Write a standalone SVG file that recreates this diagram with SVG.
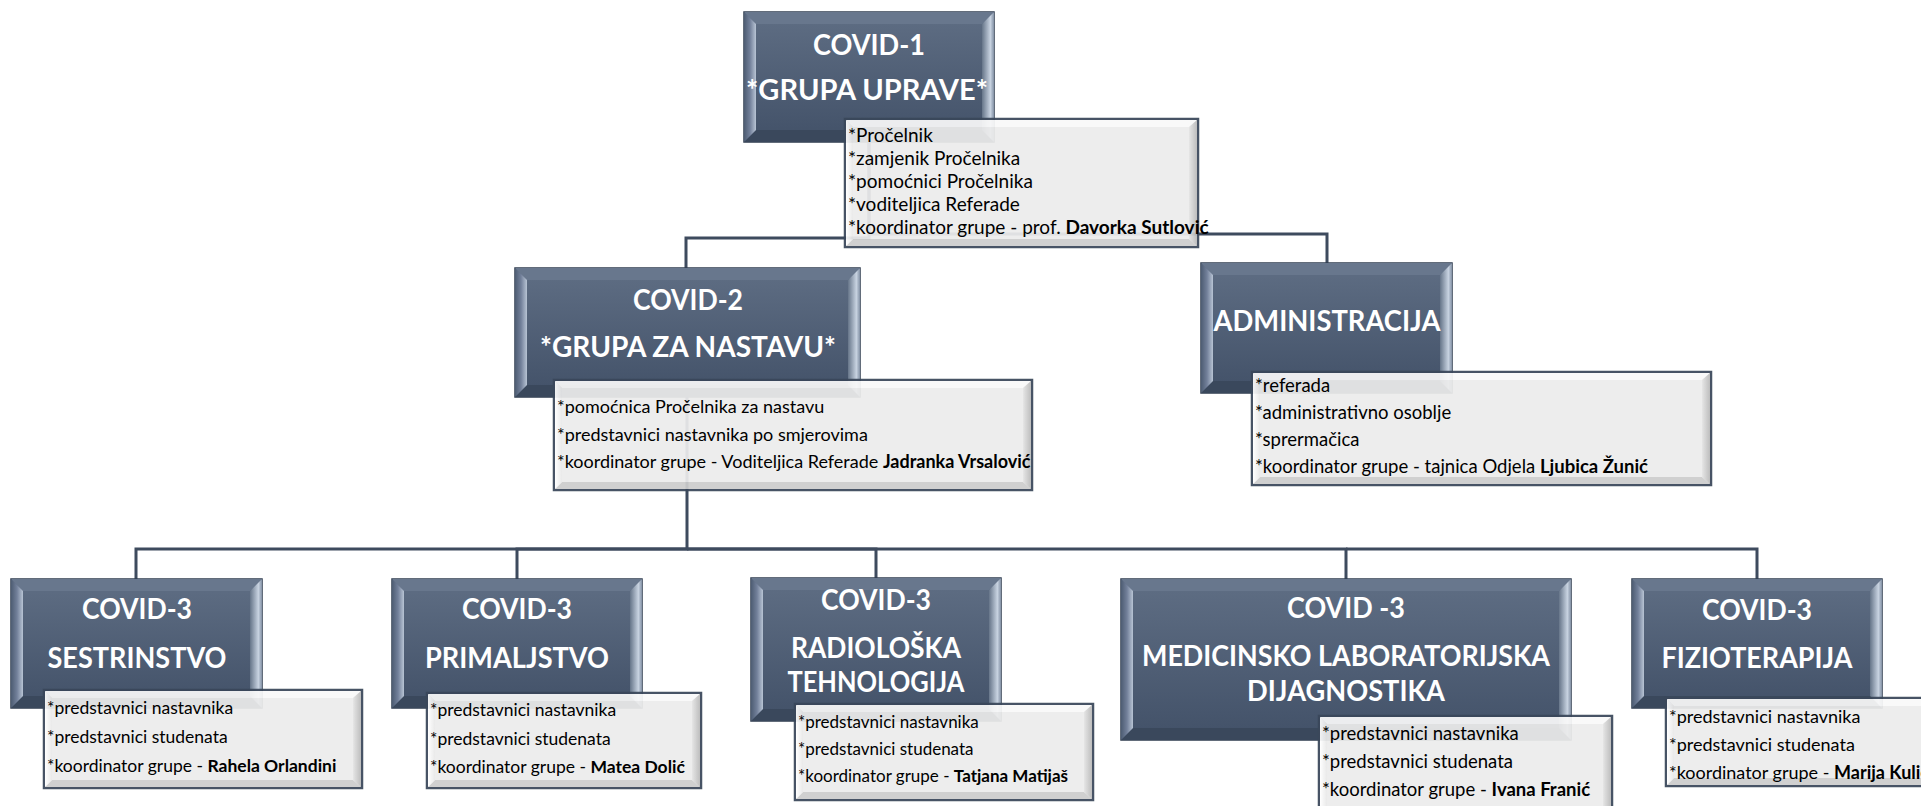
<svg xmlns="http://www.w3.org/2000/svg" width="1921" height="806" viewBox="0 0 1921 806">
<defs>
<linearGradient id="gD" x1="0" y1="0" x2="0" y2="1"><stop offset="0" stop-color="#5f6e84"/><stop offset="1" stop-color="#425168"/></linearGradient>
<linearGradient id="gDL" x1="0" y1="0" x2="1" y2="0"><stop offset="0" stop-color="#4d5c72"/><stop offset="0.5" stop-color="#72809a"/><stop offset="1" stop-color="#b8c4d4"/></linearGradient>
<linearGradient id="gDR" x1="0" y1="0" x2="1" y2="0"><stop offset="0" stop-color="#667589"/><stop offset="0.7" stop-color="#c8d3e1"/><stop offset="1" stop-color="#8391a5"/></linearGradient>
<linearGradient id="gLR" x1="0" y1="0" x2="1" y2="0"><stop offset="0" stop-color="#e4e4e4"/><stop offset="1" stop-color="#b9b9b9"/></linearGradient>
<linearGradient id="gLL" x1="0" y1="0" x2="1" y2="0"><stop offset="0" stop-color="#ffffff"/><stop offset="1" stop-color="#e8e8e8"/></linearGradient>
</defs>
<style>
.dk{fill:url(#gD);stroke:#2f3c4f;stroke-width:1.5}
.dl{fill:url(#gDL)}
.dr{fill:url(#gDR)}
.dt{fill:#68778d}
.db{fill:#3a485c}
.lb{opacity:0.93}
.lk{fill:#ececec;stroke:#3a475a;stroke-width:2.5}
.ll{fill:url(#gLL)}
.lr{fill:url(#gLR)}
.lt{fill:#f9f9f9}
.lbt{fill:#cdcdcd}
.t{font-family:Lato,"Liberation Sans",sans-serif;font-weight:700;font-size:28px;fill:#ffffff;text-anchor:middle}
.x{font-family:Lato,"Liberation Sans",sans-serif;fill:#000000}
.x .n{font-weight:700}
.s19{font-size:19px}
.s185{font-size:18.5px}
.s18{font-size:18px}
.s175{font-size:17.5px}
.s17{font-size:17px}
.c{fill:none;stroke:#3e4b5e;stroke-width:3}
</style>
<rect width="1921" height="806" fill="#ffffff"/>
<g id="connectors">
<path class="c" d="M869,142 V238 H686 V268"/>
<path class="c" d="M869,142 V234 H1327 V263"/>
<path class="c" d="M687,397 V549 H136 V579"/>
<path class="c" d="M687,549 H517 V579"/>
<path class="c" d="M687,549 H876 V578"/>
<path class="c" d="M687,549 H1346 V579"/>
<path class="c" d="M1346,549 H1757 V579"/>
</g>
<g id="n1">
<rect class="dk" x="744" y="12" width="250" height="130"/>
<polygon class="dt" points="744,12 994,12 982,24 756,24"/>
<polygon class="db" points="744,142 994,142 982,130 756,130"/>
<polygon class="dl" points="744,12 756,24 756,130 744,142"/>
<polygon class="dr" points="994,12 982,24 982,130 994,142"/>
<text class="t" x="869" y="55" textLength="112" lengthAdjust="spacingAndGlyphs">COVID-1</text>
<text class="t" x="867" y="100" textLength="242" lengthAdjust="spacingAndGlyphs">*GRUPA UPRAVE*</text>
<g class="lb">
<rect class="lk" x="845" y="119" width="353" height="128"/>
<polygon class="lt" points="846,120 1197,120 1189,127 853,127"/>
<polygon class="lbt" points="846,246 1197,246 1189,239 853,239"/>
<polygon class="ll" points="846,120 853,127 853,239 846,246"/>
<polygon class="lr" points="1197,120 1189,127 1189,239 1197,246"/>
</g>
<text class="x s19" x="848" y="142">*Pročelnik</text>
<text class="x s19" x="848" y="165">*zamjenik Pročelnika</text>
<text class="x s19" x="848" y="188">*pomoćnici Pročelnika</text>
<text class="x s19" x="848" y="211">*voditeljica Referade</text>
<text class="x s19" x="848" y="234">*koordinator grupe - prof. <tspan class="n">Davorka Sutlović</tspan></text>
</g>
<g id="n2">
<rect class="dk" x="515" y="268" width="345" height="129"/>
<polygon class="dt" points="515,268 860,268 848,280 527,280"/>
<polygon class="db" points="515,397 860,397 848,385 527,385"/>
<polygon class="dl" points="515,268 527,280 527,385 515,397"/>
<polygon class="dr" points="860,268 848,280 848,385 860,397"/>
<text class="t" x="688" y="310" textLength="110" lengthAdjust="spacingAndGlyphs">COVID-2</text>
<text class="t" x="688" y="357" textLength="296" lengthAdjust="spacingAndGlyphs">*GRUPA ZA NASTAVU*</text>
<g class="lb">
<rect class="lk" x="554" y="380" width="478" height="110"/>
<polygon class="lt" points="555,381 1031,381 1023,388 562,388"/>
<polygon class="lbt" points="555,489 1031,489 1023,482 562,482"/>
<polygon class="ll" points="555,381 562,388 562,482 555,489"/>
<polygon class="lr" points="1031,381 1023,388 1023,482 1031,489"/>
</g>
<text class="x s18" x="557" y="413">*pomoćnica Pročelnika za nastavu</text>
<text class="x s18" x="557" y="441">*predstavnici nastavnika po smjerovima</text>
<text class="x s18" x="557" y="468">*koordinator grupe - Voditeljica Referade <tspan class="n">Jadranka Vrsalović</tspan></text>
</g>
<g id="n3">
<rect class="dk" x="1201" y="263" width="251" height="130"/>
<polygon class="dt" points="1201,263 1452,263 1440,275 1213,275"/>
<polygon class="db" points="1201,393 1452,393 1440,381 1213,381"/>
<polygon class="dl" points="1201,263 1213,275 1213,381 1201,393"/>
<polygon class="dr" points="1452,263 1440,275 1440,381 1452,393"/>
<text class="t" x="1327" y="331" textLength="227" lengthAdjust="spacingAndGlyphs">ADMINISTRACIJA</text>
<g class="lb">
<rect class="lk" x="1252" y="372" width="459" height="113"/>
<polygon class="lt" points="1253,373 1710,373 1702,380 1260,380"/>
<polygon class="lbt" points="1253,484 1710,484 1702,477 1260,477"/>
<polygon class="ll" points="1253,373 1260,380 1260,477 1253,484"/>
<polygon class="lr" points="1710,373 1702,380 1702,477 1710,484"/>
</g>
<text class="x s185" x="1255" y="392">*referada</text>
<text class="x s185" x="1255" y="419">*administrativno osoblje</text>
<text class="x s185" x="1255" y="446">*sprermačica</text>
<text class="x s185" x="1255" y="473">*koordinator grupe - tajnica Odjela <tspan class="n">Ljubica Žunić</tspan></text>
</g>
<g id="n4">
<rect class="dk" x="11" y="579" width="251" height="129"/>
<polygon class="dt" points="11,579 262,579 250,591 23,591"/>
<polygon class="db" points="11,708 262,708 250,696 23,696"/>
<polygon class="dl" points="11,579 23,591 23,696 11,708"/>
<polygon class="dr" points="262,579 250,591 250,696 262,708"/>
<text class="t" x="137" y="619" textLength="110" lengthAdjust="spacingAndGlyphs">COVID-3</text>
<text class="t" x="137" y="668" textLength="179" lengthAdjust="spacingAndGlyphs">SESTRINSTVO</text>
<g class="lb">
<rect class="lk" x="44" y="690" width="318" height="98"/>
<polygon class="lt" points="45,691 361,691 353,698 52,698"/>
<polygon class="lbt" points="45,787 361,787 353,780 52,780"/>
<polygon class="ll" points="45,691 52,698 52,780 45,787"/>
<polygon class="lr" points="361,691 353,698 353,780 361,787"/>
</g>
<text class="x s175" x="47" y="714">*predstavnici nastavnika</text>
<text class="x s175" x="47" y="743">*predstavnici studenata</text>
<text class="x s175" x="47" y="772">*koordinator grupe - <tspan class="n">Rahela Orlandini</tspan></text>
</g>
<g id="n5">
<rect class="dk" x="392" y="579" width="250" height="129"/>
<polygon class="dt" points="392,579 642,579 630,591 404,591"/>
<polygon class="db" points="392,708 642,708 630,696 404,696"/>
<polygon class="dl" points="392,579 404,591 404,696 392,708"/>
<polygon class="dr" points="642,579 630,591 630,696 642,708"/>
<text class="t" x="517" y="619" textLength="110" lengthAdjust="spacingAndGlyphs">COVID-3</text>
<text class="t" x="517" y="668" textLength="184" lengthAdjust="spacingAndGlyphs">PRIMALJSTVO</text>
<g class="lb">
<rect class="lk" x="427" y="693" width="274" height="95"/>
<polygon class="lt" points="428,694 700,694 692,701 435,701"/>
<polygon class="lbt" points="428,787 700,787 692,780 435,780"/>
<polygon class="ll" points="428,694 435,701 435,780 428,787"/>
<polygon class="lr" points="700,694 692,701 692,780 700,787"/>
</g>
<text class="x s175" x="430" y="716">*predstavnici nastavnika</text>
<text class="x s175" x="430" y="745">*predstavnici studenata</text>
<text class="x s175" x="430" y="773">*koordinator grupe - <tspan class="n">Matea Dolić</tspan></text>
</g>
<g id="n6">
<rect class="dk" x="751" y="578" width="250" height="143"/>
<polygon class="dt" points="751,578 1001,578 989,590 763,590"/>
<polygon class="db" points="751,721 1001,721 989,709 763,709"/>
<polygon class="dl" points="751,578 763,590 763,709 751,721"/>
<polygon class="dr" points="1001,578 989,590 989,709 1001,721"/>
<text class="t" x="876" y="610" textLength="110" lengthAdjust="spacingAndGlyphs">COVID-3</text>
<text class="t" x="876" y="658" textLength="170" lengthAdjust="spacingAndGlyphs">RADIOLOŠKA</text>
<text class="t" x="876" y="692" textLength="177" lengthAdjust="spacingAndGlyphs">TEHNOLOGIJA</text>
<g class="lb">
<rect class="lk" x="795" y="704" width="298" height="96"/>
<polygon class="lt" points="796,705 1092,705 1084,712 803,712"/>
<polygon class="lbt" points="796,799 1092,799 1084,792 803,792"/>
<polygon class="ll" points="796,705 803,712 803,792 796,799"/>
<polygon class="lr" points="1092,705 1084,712 1084,792 1092,799"/>
</g>
<text class="x s17" x="798" y="728">*predstavnici nastavnika</text>
<text class="x s17" x="798" y="755">*predstavnici studenata</text>
<text class="x s17" x="798" y="782">*koordinator grupe - <tspan class="n">Tatjana Matijaš</tspan></text>
</g>
<g id="n7">
<rect class="dk" x="1121" y="579" width="450" height="161"/>
<polygon class="dt" points="1121,579 1571,579 1559,591 1133,591"/>
<polygon class="db" points="1121,740 1571,740 1559,728 1133,728"/>
<polygon class="dl" points="1121,579 1133,591 1133,728 1121,740"/>
<polygon class="dr" points="1571,579 1559,591 1559,728 1571,740"/>
<text class="t" x="1346" y="618" textLength="118" lengthAdjust="spacingAndGlyphs">COVID -3</text>
<text class="t" x="1346" y="666" textLength="408" lengthAdjust="spacingAndGlyphs">MEDICINSKO LABORATORIJSKA</text>
<text class="t" x="1346" y="701" textLength="198" lengthAdjust="spacingAndGlyphs">DIJAGNOSTIKA</text>
<g class="lb">
<rect class="lk" x="1319" y="716" width="293" height="100"/>
<polygon class="lt" points="1320,717 1611,717 1603,724 1327,724"/>
<polygon class="ll" points="1320,717 1327,724 1327,815 1320,815"/>
<polygon class="lr" points="1611,717 1603,724 1603,815 1611,815"/>
</g>
<text class="x s185" x="1322" y="740">*predstavnici nastavnika</text>
<text class="x s185" x="1322" y="768">*predstavnici studenata</text>
<text class="x s185" x="1322" y="796">*koordinator grupe - <tspan class="n">Ivana Franić</tspan></text>
</g>
<g id="n8">
<rect class="dk" x="1632" y="579" width="250" height="129"/>
<polygon class="dt" points="1632,579 1882,579 1870,591 1644,591"/>
<polygon class="db" points="1632,708 1882,708 1870,696 1644,696"/>
<polygon class="dl" points="1632,579 1644,591 1644,696 1632,708"/>
<polygon class="dr" points="1882,579 1870,591 1870,696 1882,708"/>
<text class="t" x="1757" y="620" textLength="110" lengthAdjust="spacingAndGlyphs">COVID-3</text>
<text class="t" x="1757" y="668" textLength="191" lengthAdjust="spacingAndGlyphs">FIZIOTERAPIJA</text>
<g class="lb">
<rect class="lk" x="1666" y="698" width="270" height="88"/>
<polygon class="lt" points="1667,699 1935,699 1927,706 1674,706"/>
<polygon class="lbt" points="1667,785 1935,785 1927,778 1674,778"/>
<polygon class="ll" points="1667,699 1674,706 1674,778 1667,785"/>
</g>
<text class="x s18" x="1669" y="723">*predstavnici nastavnika</text>
<text class="x s18" x="1669" y="751">*predstavnici studenata</text>
<text class="x s18" x="1669" y="779">*koordinator grupe - <tspan class="n">Marija Kulić</tspan></text>
</g>
</svg>
